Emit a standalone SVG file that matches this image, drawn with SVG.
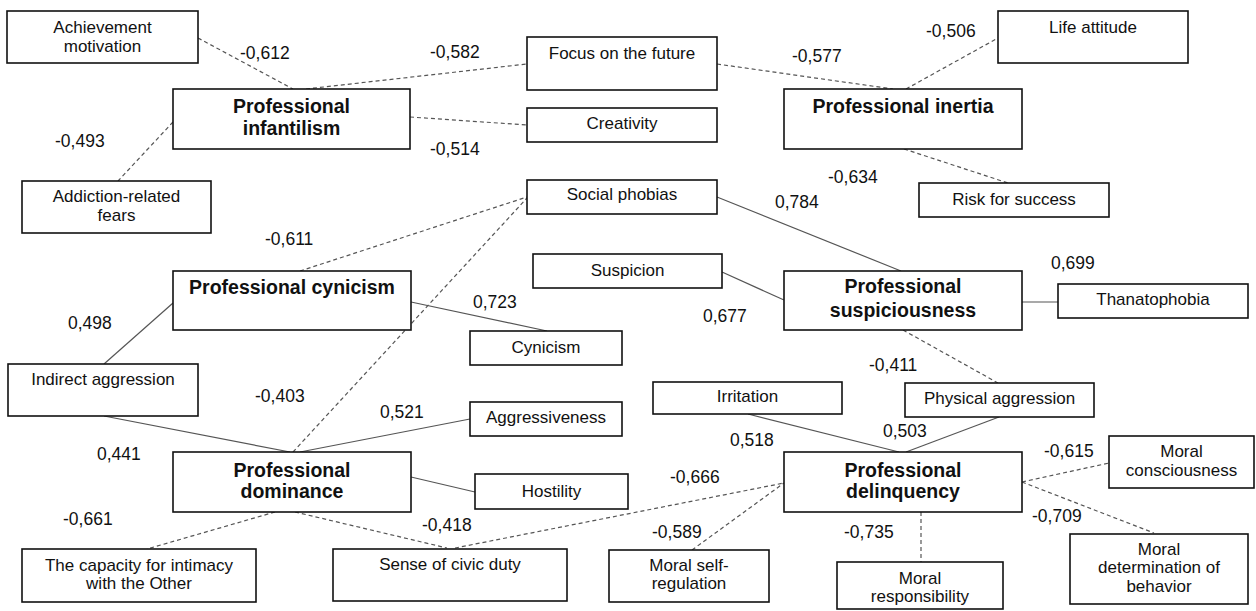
<svg xmlns="http://www.w3.org/2000/svg" width="1256" height="611" viewBox="0 0 1256 611">
<style>
.bx{fill:#fff;stroke:#111;stroke-width:1.6}
.t{font-family:"Liberation Sans",Arial,sans-serif;font-size:17px;fill:#111;text-anchor:middle}
.b{font-family:"Liberation Sans",Arial,sans-serif;font-size:19.5px;font-weight:bold;fill:#111;text-anchor:middle}
.lb{font-family:"Liberation Sans",Arial,sans-serif;font-size:17.5px;fill:#111}
.s{stroke:#555;stroke-width:1.2;fill:none}
.d{stroke:#555;stroke-width:1.2;fill:none;stroke-dasharray:4 3}
</style>
<rect width="1256" height="611" fill="#fff"/>
<g id="connectors">
<line class="d" x1="198" y1="38" x2="293" y2="89"/>
<line class="d" x1="173" y1="122" x2="118" y2="181"/>
<line class="d" x1="306" y1="89" x2="527" y2="64"/>
<line class="d" x1="410" y1="117" x2="527" y2="125"/>
<line class="d" x1="717" y1="64" x2="893" y2="89"/>
<line class="d" x1="906" y1="89" x2="998" y2="38"/>
<line class="d" x1="904" y1="149" x2="1008" y2="183"/>
<line class="d" x1="300" y1="271" x2="527" y2="197"/>
<line class="d" x1="293" y1="452" x2="527" y2="198"/>
<line class="s" x1="717" y1="197" x2="901" y2="271"/>
<line class="s" x1="722" y1="272" x2="784" y2="300"/>
<line class="s" x1="411" y1="302" x2="547" y2="331"/>
<line class="s" x1="173" y1="303" x2="104" y2="364"/>
<line class="s" x1="1022" y1="302" x2="1058" y2="302"/>
<line class="d" x1="903" y1="330" x2="998" y2="383"/>
<line class="s" x1="104" y1="416" x2="290" y2="452"/>
<line class="s" x1="300" y1="452" x2="470" y2="419"/>
<line class="s" x1="411" y1="477" x2="475" y2="492"/>
<line class="d" x1="275" y1="512" x2="147" y2="549"/>
<line class="d" x1="295" y1="512" x2="447" y2="548"/>
<line class="d" x1="455" y1="548" x2="784" y2="483"/>
<line class="d" x1="692" y1="550" x2="784" y2="483"/>
<line class="s" x1="748" y1="414" x2="899" y2="452"/>
<line class="s" x1="999" y1="417" x2="906" y2="452"/>
<line class="d" x1="1022" y1="482" x2="1109" y2="463"/>
<line class="d" x1="1022" y1="482" x2="1154" y2="533"/>
<line class="d" x1="921" y1="512" x2="921" y2="562"/>
</g>
<g id="labels">
<text class="lb" x="240" y="59">-0,612</text>
<text class="lb" x="430" y="58">-0,582</text>
<text class="lb" x="792" y="62">-0,577</text>
<text class="lb" x="926" y="37">-0,506</text>
<text class="lb" x="55" y="147">-0,493</text>
<text class="lb" x="430" y="155">-0,514</text>
<text class="lb" x="828" y="183">-0,634</text>
<text class="lb" x="775" y="208">0,784</text>
<text class="lb" x="265" y="245">-0,611</text>
<text class="lb" x="68" y="329">0,498</text>
<text class="lb" x="473" y="308">0,723</text>
<text class="lb" x="703" y="322">0,677</text>
<text class="lb" x="1051" y="269">0,699</text>
<text class="lb" x="869" y="371">-0,411</text>
<text class="lb" x="255" y="402">-0,403</text>
<text class="lb" x="380" y="418">0,521</text>
<text class="lb" x="97" y="460">0,441</text>
<text class="lb" x="730" y="446">0,518</text>
<text class="lb" x="883" y="437">0,503</text>
<text class="lb" x="670" y="483">-0,666</text>
<text class="lb" x="1044" y="457">-0,615</text>
<text class="lb" x="63" y="525">-0,661</text>
<text class="lb" x="422" y="531">-0,418</text>
<text class="lb" x="652" y="538">-0,589</text>
<text class="lb" x="1032" y="522">-0,709</text>
<text class="lb" x="844" y="538">-0,735</text>
</g>
<g id="achievement-motivation"><rect class="bx" x="7" y="11" width="191" height="52"/><text class="t" x="102.5" y="33">Achievement</text><text class="t" x="102.5" y="52">motivation</text></g>
<g id="professional-infantilism"><rect class="bx" x="173" y="89" width="237" height="60"/><text class="b" x="291.5" y="113">Professional</text><text class="b" x="291.5" y="135">infantilism</text></g>
<g id="addiction-related-fears"><rect class="bx" x="22" y="181" width="189" height="52"/><text class="t" x="116.5" y="202">Addiction-related</text><text class="t" x="116.5" y="221">fears</text></g>
<g id="focus-on-the-future"><rect class="bx" x="527" y="37" width="190" height="53"/><text class="t" x="622" y="59">Focus on the future</text></g>
<g id="creativity"><rect class="bx" x="527" y="108" width="190" height="34"/><text class="t" x="622" y="129">Creativity</text></g>
<g id="social-phobias"><rect class="bx" x="527" y="180" width="190" height="34"/><text class="t" x="622" y="200">Social phobias</text></g>
<g id="professional-inertia"><rect class="bx" x="784" y="89" width="238" height="60"/><text class="b" x="903" y="113">Professional inertia</text></g>
<g id="life-attitude"><rect class="bx" x="998" y="11" width="190" height="52"/><text class="t" x="1093" y="33">Life attitude</text></g>
<g id="risk-for-success"><rect class="bx" x="919" y="183" width="190" height="34"/><text class="t" x="1014" y="205">Risk for success</text></g>
<g id="professional-cynicism"><rect class="bx" x="173" y="271" width="238" height="59"/><text class="b" x="292" y="294">Professional cynicism</text></g>
<g id="suspicion"><rect class="bx" x="533" y="254" width="189" height="34"/><text class="t" x="627.5" y="276">Suspicion</text></g>
<g id="cynicism"><rect class="bx" x="470" y="331" width="152" height="34"/><text class="t" x="546" y="353">Cynicism</text></g>
<g id="professional-suspiciousness"><rect class="bx" x="784" y="271" width="238" height="59"/><text class="b" x="903" y="293">Professional</text><text class="b" x="903" y="317">suspiciousness</text></g>
<g id="thanatophobia"><rect class="bx" x="1058" y="284" width="190" height="34"/><text class="t" x="1153" y="305">Thanatophobia</text></g>
<g id="indirect-aggression"><rect class="bx" x="8" y="364" width="190" height="52"/><text class="t" x="103" y="385">Indirect aggression</text></g>
<g id="irritation"><rect class="bx" x="653" y="382" width="189" height="32"/><text class="t" x="747.5" y="402">Irritation</text></g>
<g id="physical-aggression"><rect class="bx" x="905" y="383" width="189" height="34"/><text class="t" x="999.5" y="404">Physical aggression</text></g>
<g id="aggressiveness"><rect class="bx" x="470" y="402" width="152" height="34"/><text class="t" x="546" y="423">Aggressiveness</text></g>
<g id="hostility"><rect class="bx" x="475" y="474" width="153" height="35"/><text class="t" x="551.5" y="497">Hostility</text></g>
<g id="professional-dominance"><rect class="bx" x="173" y="452" width="238" height="60"/><text class="b" x="292" y="477">Professional</text><text class="b" x="292" y="498">dominance</text></g>
<g id="professional-delinquency"><rect class="bx" x="784" y="452" width="238" height="60"/><text class="b" x="903" y="477">Professional</text><text class="b" x="903" y="498">delinquency</text></g>
<g id="moral-consciousness"><rect class="bx" x="1109" y="436" width="145" height="52"/><text class="t" x="1181.5" y="457">Moral</text><text class="t" x="1181.5" y="476">consciousness</text></g>
<g id="capacity-for-intimacy"><rect class="bx" x="22" y="549" width="234" height="53"/><text class="t" x="139" y="571">The capacity for intimacy</text><text class="t" x="139" y="589">with the Other</text></g>
<g id="sense-of-civic-duty"><rect class="bx" x="333" y="549" width="234" height="52"/><text class="t" x="450" y="570">Sense of civic duty</text></g>
<g id="moral-self-regulation"><rect class="bx" x="609" y="550" width="160" height="52"/><text class="t" x="689" y="571">Moral self-</text><text class="t" x="689" y="589">regulation</text></g>
<g id="moral-responsibility"><rect class="bx" x="837" y="562" width="166" height="47"/><text class="t" x="920" y="584">Moral</text><text class="t" x="920" y="602">responsibility</text></g>
<g id="moral-determination"><rect class="bx" x="1070" y="534" width="178" height="70"/><text class="t" x="1159" y="555">Moral</text><text class="t" x="1159" y="573">determination of</text><text class="t" x="1159" y="592">behavior</text></g>
</svg>
